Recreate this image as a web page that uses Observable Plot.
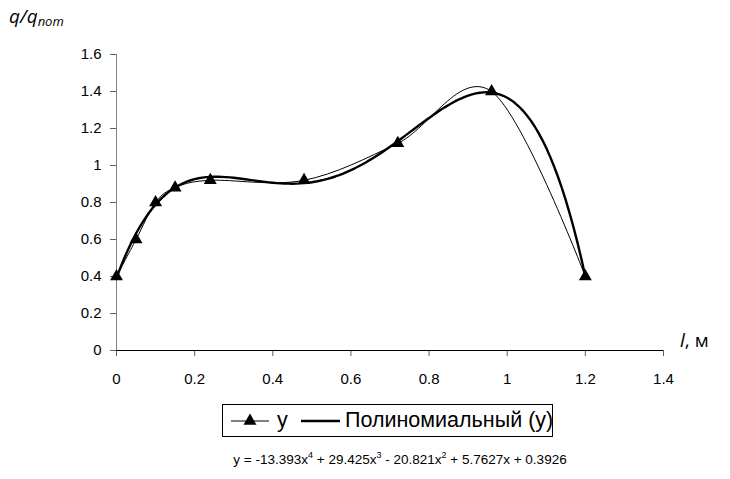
<!DOCTYPE html>
<html>
<head>
<meta charset="utf-8">
<script src="https://cdn.jsdelivr.net/npm/d3@7"></script>
<script src="https://cdn.jsdelivr.net/npm/@observablehq/plot@0.6"></script>
<style>
  html, body { margin: 0; padding: 0; background: #fff; }
  #wrap { position: relative; width: 730px; height: 479px; background: #fff; overflow: hidden; font-family: "Liberation Sans", Arial, sans-serif; color: #000; }
  #chart { position: absolute; left: 0; top: 0; }
  .ylab { position: absolute; left: 9px; top: 3px; font-family: "Open Sans", sans-serif; font-style: italic; font-size: 19px; white-space: nowrap; }
  .ylab sub { font-size: 13px; vertical-align: -3px; }
  .xlab { position: absolute; left: 680px; top: 327px; font-family: "Open Sans", sans-serif; font-size: 19px; white-space: nowrap; }
  #legend { position: absolute; left: 222px; top: 404px; width: 331px; height: 33px; border: 1px solid #000; box-sizing: border-box; white-space: nowrap; }
  #legend svg { position: absolute; top: 0; display: block; }
  #legend span { position: absolute; top: 3px; font-size: 21.5px; line-height: 24px; }
  #eq { position: absolute; left: 0; width: 800px; top: 452px; text-align: center; font-size: 13.5px; white-space: nowrap; }
  #eq sup { font-size: 9px; vertical-align: 6px; line-height: 0; }
</style>
</head>
<body>
<div id="wrap">
  <div id="chart"></div>
  <div class="ylab">q/q<sub>nom</sub></div>
  <div class="xlab"><i>l</i>, м</div>
  <div id="legend"></div>
  <div id="eq"></div>
</div>
<script>
// ---- data ----
const xValues = [0, 0.05, 0.1, 0.15, 0.24, 0.48, 0.72, 0.96, 1.2];
const yValues = [0.4, 0.6, 0.8, 0.88, 0.92, 0.92, 1.12, 1.4, 0.4];
// polynomial trendline coefficients as printed on the chart (x^4 ... x^0)
const trendCoefficients = [-13.393, 29.425, -20.821, 5.7627, 0.3926];
const xTicks = [0, 0.2, 0.4, 0.6, 0.8, 1, 1.2, 1.4];
const yTicks = [0, 0.2, 0.4, 0.6, 0.8, 1, 1.2, 1.4, 1.6];
const seriesName = "y";
const trendName = "Полиномиальный (y)";

const points = xValues.map((x, i) => ({x, y: yValues[i]}));
const polyAt = x => trendCoefficients.reduce((acc, c) => acc * x + c, 0);
const trend = d3.range(0, 120.5, 1).map(i => { const x = i / 100; return {x, y: polyAt(x)}; });

const fmt = d => String(+d.toFixed(1));

const chart = Plot.plot({
  width: 730,
  height: 390,
  marginTop: 54,
  marginBottom: 40,
  marginLeft: 116,
  marginRight: 67,
  style: { fontFamily: "'Liberation Sans', Arial, sans-serif", fontSize: "15px", color: "#000", background: "#fff", overflow: "visible" },
  x: { domain: [0, 1.4] },
  y: { domain: [0, 1.6] },
  marks: [
    Plot.axisX({ ticks: xTicks, tickFormat: fmt, tickSize: 6, tickPadding: 17, label: null, stroke: "#606060", fontSize: 15 }),
    Plot.axisY({ ticks: yTicks, tickFormat: fmt, tickSize: 6, tickPadding: 9, label: null, stroke: "#606060", fontSize: 15 }),
    Plot.ruleX([0], { y1: 0, y2: 1.6, stroke: "#808080", strokeWidth: 1 }),
    Plot.ruleY([0], { x1: 0, x2: 1.4, stroke: "#000", strokeWidth: 1 }),
    Plot.line(trend, { x: "x", y: "y", stroke: "#000", strokeWidth: 2.4 }),
    Plot.line(points, { x: "x", y: "y", stroke: "#000", strokeWidth: 1, curve: "cardinal", tension: 0 }),
    Plot.dot(points, { x: "x", y: "y", symbol: "triangle", r: 4.8, fill: "#000", stroke: "none" })
  ]
});
document.getElementById("chart").appendChild(chart);

// legend (positions relative to the legend box)
const legend = d3.select("#legend");
const s1 = legend.append("svg").attr("width", 48).attr("height", 31).style("left", "6px");
s1.append("line").attr("x1", 2).attr("x2", 40).attr("y1", 16).attr("y2", 16).attr("stroke", "#000").attr("stroke-width", 1);
s1.append("path").attr("d", d3.symbol(d3.symbolTriangle, 73)()).attr("transform", "translate(21,16)").attr("fill", "#000");
legend.append("span").text(seriesName).style("left", "54px");
const s2 = legend.append("svg").attr("width", 44).attr("height", 31).style("left", "77px");
s2.append("line").attr("x1", 1).attr("x2", 40).attr("y1", 16).attr("y2", 16).attr("stroke", "#000").attr("stroke-width", 2.4);
legend.append("span").text(trendName).style("left", "122px");

// equation
const c = trendCoefficients;
const sgn = v => (v < 0 ? " - " : " + ");
const abs = v => String(Math.abs(v));
document.getElementById("eq").innerHTML =
  "y = " + String(c[0]) + "x<sup>4</sup>" + sgn(c[1]) + abs(c[1]) + "x<sup>3</sup>" +
  sgn(c[2]) + abs(c[2]) + "x<sup>2</sup>" + sgn(c[3]) + abs(c[3]) + "x" + sgn(c[4]) + abs(c[4]);
</script>
</body>
</html>
